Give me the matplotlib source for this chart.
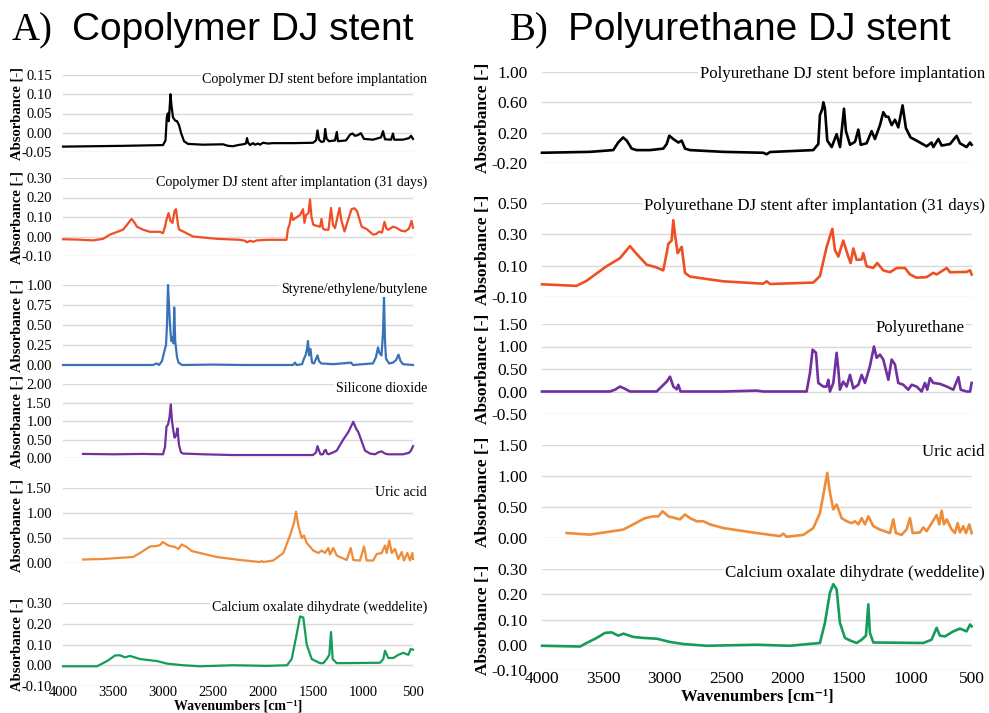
import matplotlib
matplotlib.use('Agg')
import matplotlib.pyplot as plt
import numpy as np

# spectra: (wavenumber, absorbance)
cop_before = [(4000, -0.036), (3700, -0.035), (3400, -0.034), (3000, -0.032), (2975, -0.020),
              (2962, 0.040), (2952, 0.050), (2942, 0.030), (2925, 0.100), (2915, 0.070),
              (2900, 0.040), (2880, 0.032), (2860, 0.030), (2840, 0.020), (2820, 0.000),
              (2790, -0.022), (2750, -0.029), (2600, -0.031), (2400, -0.030), (2350, -0.034),
              (2300, -0.035), (2250, -0.032), (2200, -0.030), (2170, -0.028), (2160, -0.014),
              (2150, -0.025), (2130, -0.032), (2100, -0.027), (2080, -0.031), (2050, -0.028),
              (2030, -0.031), (2000, -0.026), (1950, -0.028), (1900, -0.027), (1700, -0.027),
              (1500, -0.026), (1470, -0.020), (1455, 0.006), (1440, -0.018), (1415, -0.024),
              (1390, -0.022), (1378, 0.010), (1365, -0.015), (1340, -0.022), (1280, -0.020),
              (1262, 0.002), (1250, -0.022), (1170, -0.020), (1130, -0.005), (1105, -0.002),
              (1080, -0.008), (1050, -0.006), (1022, -0.001), (990, -0.016), (900, -0.018),
              (820, -0.012), (800, 0.004), (780, -0.017), (720, -0.018), (700, -0.002),
              (688, -0.018), (600, -0.018), (540, -0.014), (520, -0.008), (500, -0.016)]

cop_after = [(4000, -0.014), (3850, -0.016), (3700, -0.020), (3600, -0.012), (3530, 0.010),
             (3450, 0.025), (3400, 0.035), (3360, 0.060), (3315, 0.090), (3290, 0.075),
             (3260, 0.050), (3200, 0.035), (3130, 0.024), (3030, 0.024), (3000, 0.017),
             (2980, 0.050), (2963, 0.090), (2945, 0.120), (2925, 0.080), (2905, 0.070),
             (2885, 0.130), (2870, 0.140), (2850, 0.060), (2838, 0.035), (2800, 0.026),
             (2700, 0.000), (2460, -0.012), (2230, -0.017), (2180, -0.022), (2160, -0.030),
             (2130, -0.022), (2100, -0.027), (2060, -0.020), (1960, -0.017), (1765, -0.017),
             (1750, 0.040), (1735, 0.060), (1715, 0.120), (1700, 0.085), (1660, 0.100),
             (1630, 0.110), (1600, 0.140), (1585, 0.070), (1570, 0.110), (1545, 0.120),
             (1530, 0.190), (1515, 0.100), (1497, 0.060), (1430, 0.050), (1415, 0.090),
             (1400, 0.040), (1380, 0.035), (1345, 0.035), (1320, 0.146), (1300, 0.060),
             (1280, 0.043), (1235, 0.146), (1215, 0.080), (1185, 0.026), (1140, 0.100),
             (1115, 0.140), (1085, 0.145), (1060, 0.130), (1013, 0.050), (963, 0.038),
             (900, 0.010), (870, 0.012), (840, 0.025), (810, 0.020), (785, 0.075),
             (765, 0.040), (747, 0.035), (700, 0.050), (667, 0.045), (620, 0.030),
             (580, 0.026), (540, 0.040), (515, 0.080), (500, 0.045)]

styrene = [(4000, 0.0), (3500, 0.0), (3100, 0.0), (3065, 0.02), (3040, 0.0), (3010, 0.05),
           (2985, 0.18), (2970, 0.25), (2960, 0.5), (2950, 1.0), (2940, 0.75), (2930, 0.5),
           (2918, 0.3), (2905, 0.35), (2895, 0.27), (2888, 0.72), (2878, 0.3), (2860, 0.1),
           (2845, 0.03), (2810, 0.0), (2500, 0.005), (2200, 0.0), (1950, 0.0), (1700, 0.0),
           (1680, 0.03), (1665, 0.0), (1610, 0.01), (1590, 0.08), (1575, 0.12), (1560, 0.2),
           (1550, 0.3), (1540, 0.12), (1525, 0.2), (1510, 0.03), (1490, 0.02), (1455, 0.12),
           (1440, 0.05), (1420, 0.02), (1300, 0.01), (1120, 0.03), (1100, 0.0), (900, 0.02),
           (870, 0.1), (850, 0.22), (835, 0.15), (815, 0.12), (800, 0.4), (790, 0.85),
           (780, 0.3), (770, 0.08), (740, 0.02), (700, 0.03), (670, 0.06), (645, 0.13),
           (625, 0.05), (600, 0.01), (500, 0.0)]

silicone = [(3800, 0.11), (3500, 0.10), (3200, 0.11), (3000, 0.10), (2980, 0.30), (2965, 0.85),
            (2950, 0.90), (2935, 1.10), (2922, 1.45), (2910, 1.00), (2900, 0.80), (2885, 0.55),
            (2870, 0.60), (2855, 0.80), (2840, 0.35), (2820, 0.15), (2800, 0.12), (2600, 0.10),
            (2300, 0.08), (2000, 0.08), (1500, 0.08), (1470, 0.15), (1455, 0.32), (1440, 0.20),
            (1425, 0.10), (1400, 0.10), (1385, 0.20), (1372, 0.22), (1360, 0.12), (1345, 0.10),
            (1300, 0.15), (1263, 0.20), (1230, 0.35), (1197, 0.50), (1147, 0.70), (1120, 0.85),
            (1097, 0.98), (1070, 0.80), (1047, 0.70), (1013, 0.45), (980, 0.20), (930, 0.12),
            (880, 0.10), (850, 0.15), (815, 0.18), (780, 0.12), (750, 0.10), (700, 0.10),
            (600, 0.10), (540, 0.14), (520, 0.20), (500, 0.32)]

uric_a = [(3800, 0.07), (3600, 0.08), (3300, 0.12), (3230, 0.20), (3130, 0.33), (3063, 0.34),
          (3030, 0.36), (3003, 0.42), (2970, 0.38), (2947, 0.35), (2880, 0.32), (2847, 0.28),
          (2813, 0.37), (2763, 0.32), (2713, 0.24), (2630, 0.20), (2463, 0.12), (2230, 0.06),
          (2030, 0.02), (2013, 0.04), (1997, 0.02), (1897, 0.05), (1797, 0.20), (1730, 0.55),
          (1690, 0.80), (1670, 1.03), (1647, 0.75), (1613, 0.50), (1590, 0.55), (1563, 0.40),
          (1497, 0.25), (1447, 0.20), (1413, 0.25), (1380, 0.20), (1347, 0.30), (1330, 0.17),
          (1297, 0.30), (1263, 0.15), (1163, 0.06), (1123, 0.30), (1097, 0.06), (1030, 0.05),
          (990, 0.33), (963, 0.05), (897, 0.05), (863, 0.18), (813, 0.20), (780, 0.35),
          (763, 0.20), (737, 0.45), (713, 0.20), (680, 0.28), (647, 0.08), (613, 0.22),
          (590, 0.05), (557, 0.20), (530, 0.05), (507, 0.20), (500, 0.08)]

cao_a = [(4000, -0.005), (3660, -0.005), (3560, 0.020), (3480, 0.047), (3430, 0.048),
         (3380, 0.038), (3330, 0.045), (3230, 0.030), (3060, 0.020), (2960, 0.008),
         (2800, 0.000), (2630, -0.005), (2300, 0.000), (1960, -0.003), (1760, 0.000),
         (1713, 0.030), (1663, 0.150), (1630, 0.235), (1597, 0.230), (1563, 0.100),
         (1513, 0.030), (1430, 0.010), (1397, 0.010), (1363, 0.030), (1337, 0.050),
         (1320, 0.160), (1303, 0.030), (1263, 0.010), (830, 0.012), (797, 0.030),
         (780, 0.070), (747, 0.035), (697, 0.035), (647, 0.050), (597, 0.060),
         (547, 0.050), (523, 0.078), (500, 0.075)]

pu_before = [(4000, -0.065), (3610, -0.053), (3420, -0.030), (3380, 0.070), (3340, 0.137),
             (3310, 0.095), (3270, -0.010), (3230, -0.030), (3120, -0.030), (3013, -0.010),
             (2985, 0.050), (2964, 0.160), (2931, 0.116), (2890, 0.070), (2863, 0.095),
             (2836, -0.010), (2795, -0.030), (2524, -0.053), (2200, -0.065), (2171, -0.085),
             (2144, -0.055), (1792, -0.030), (1751, 0.050), (1738, 0.430), (1718, 0.516),
             (1710, 0.600), (1697, 0.516), (1678, 0.095), (1642, 0.010), (1602, 0.180),
             (1574, 0.010), (1542, 0.516), (1526, 0.220), (1493, 0.040), (1452, 0.080),
             (1425, 0.240), (1406, 0.040), (1358, 0.060), (1317, 0.220), (1290, 0.116),
             (1249, 0.300), (1222, 0.470), (1200, 0.410), (1181, 0.410), (1154, 0.300),
             (1127, 0.370), (1100, 0.270), (1065, 0.560), (1038, 0.260), (1000, 0.137),
             (951, 0.095), (869, 0.020), (829, 0.070), (815, 0.010), (774, 0.116),
             (747, 0.030), (679, 0.050), (625, 0.158), (598, 0.060), (544, 0.010),
             (516, 0.070), (503, 0.040)]

pu_after = [(4000, -0.019), (3720, -0.029), (3640, 0.002), (3475, 0.096), (3365, 0.148),
            (3284, 0.225), (3230, 0.175), (3148, 0.106), (3080, 0.092), (3013, 0.070),
            (2985, 0.180), (2972, 0.240), (2945, 0.260), (2931, 0.390), (2918, 0.300),
            (2896, 0.180), (2863, 0.220), (2836, 0.054), (2795, 0.030), (2524, 0.000),
            (2200, -0.015), (2171, 0.000), (2144, -0.017), (1792, -0.008), (1738, 0.033),
            (1683, 0.220), (1637, 0.335), (1616, 0.200), (1588, 0.158), (1548, 0.260),
            (1507, 0.158), (1488, 0.117), (1466, 0.210), (1439, 0.137), (1398, 0.140),
            (1385, 0.180), (1358, 0.096), (1304, 0.086), (1271, 0.117), (1222, 0.070),
            (1168, 0.058), (1113, 0.085), (1046, 0.085), (1005, 0.044), (951, 0.023),
            (869, 0.027), (815, 0.054), (788, 0.044), (706, 0.085), (679, 0.058),
            (544, 0.060), (516, 0.070), (503, 0.044)]

pu_ref = [(4000, 0.0), (3447, 0.0), (3406, 0.04), (3365, 0.11), (3325, 0.06), (3284, 0.0),
          (3067, 0.0), (3026, 0.11), (2985, 0.22), (2958, 0.33), (2931, 0.11), (2904, 0.05),
          (2891, 0.15), (2872, 0.0), (2524, 0.0), (2253, 0.02), (2199, 0.0), (1846, 0.0),
          (1819, 0.41), (1797, 0.93), (1770, 0.86), (1751, 0.19), (1710, 0.11), (1683, 0.11),
          (1670, 0.26), (1656, 0.0), (1629, 0.19), (1602, 0.86), (1588, 0.49), (1575, 0.04),
          (1548, 0.22), (1520, 0.11), (1493, 0.37), (1466, 0.07), (1425, 0.15), (1398, 0.37),
          (1371, 0.19), (1331, 0.56), (1298, 1.0), (1276, 0.75), (1249, 0.82), (1222, 0.71),
          (1181, 0.26), (1154, 0.71), (1127, 0.60), (1100, 0.19), (1059, 0.15), (1019, 0.04),
          (991, 0.15), (951, 0.11), (910, 0.0), (883, 0.19), (864, 0.04), (842, 0.30),
          (815, 0.19), (761, 0.17), (706, 0.11), (652, 0.04), (611, 0.32), (592, 0.04),
          (544, 0.0), (516, 0.0), (503, 0.19)]

uric_b = [(3800, 0.08), (3610, 0.055), (3340, 0.135), (3257, 0.22), (3162, 0.32), (3094, 0.35),
          (3053, 0.35), (3018, 0.43), (2972, 0.35), (2877, 0.30), (2836, 0.38), (2795, 0.32),
          (2741, 0.27), (2687, 0.27), (2633, 0.22), (2524, 0.16), (2253, 0.08), (2063, 0.03),
          (2036, 0.07), (2009, 0.02), (1873, 0.05), (1792, 0.16), (1738, 0.40), (1697, 0.84),
          (1678, 1.05), (1656, 0.73), (1629, 0.46), (1602, 0.54), (1561, 0.32), (1520, 0.27),
          (1480, 0.24), (1452, 0.27), (1425, 0.22), (1398, 0.32), (1371, 0.22), (1344, 0.35),
          (1303, 0.19), (1249, 0.135), (1168, 0.08), (1141, 0.30), (1119, 0.08), (1073, 0.05),
          (1032, 0.14), (1005, 0.32), (983, 0.08), (924, 0.09), (896, 0.17), (869, 0.11),
          (788, 0.37), (766, 0.22), (747, 0.44), (728, 0.22), (706, 0.30), (666, 0.14),
          (639, 0.08), (617, 0.24), (598, 0.09), (571, 0.19), (549, 0.08), (522, 0.22),
          (503, 0.08)]

cao_b = [(4000, -0.004), (3690, -0.007), (3637, 0.007), (3555, 0.027), (3487, 0.047),
         (3433, 0.049), (3379, 0.036), (3338, 0.044), (3257, 0.031), (3175, 0.027),
         (3067, 0.024), (2958, 0.011), (2850, 0.003), (2660, -0.004), (2253, 0.000),
         (1982, -0.004), (1738, 0.007), (1697, 0.087), (1656, 0.207), (1629, 0.240),
         (1602, 0.220), (1575, 0.087), (1534, 0.027), (1493, 0.017), (1439, 0.007),
         (1398, 0.020), (1363, 0.036), (1344, 0.160), (1331, 0.047), (1303, 0.009),
         (896, 0.007), (829, 0.020), (788, 0.067), (761, 0.036), (720, 0.033),
         (652, 0.053), (598, 0.064), (544, 0.053), (516, 0.080), (503, 0.073)]

titles_a = ['Copolymer DJ stent before implantation', 'Copolymer DJ stent after implantation (31 days)',
            'Styrene/ethylene/butylene', 'Silicone dioxide', 'Uric acid',
            'Calcium oxalate dihydrate (weddelite)']
titles_b = ['Polyurethane DJ stent before implantation', 'Polyurethane DJ stent after implantation (31 days)',
            'Polyurethane', 'Uric acid', 'Calcium oxalate dihydrate (weddelite)']
x_ticks = [4000, 3500, 3000, 2500, 2000, 1500, 1000, 500]
x_label = 'Wavenumbers [cm\u207b\u00b9]'

plt.rcParams['font.family'] = ['Liberation Serif', 'DejaVu Serif']

W, H = 989, 713
fig = plt.figure(figsize=(W / 100, H / 100), dpi=100)

black = '#000000'
red = '#F04E23'
blue = '#3A72B8'
purple = '#7030A0'
orange = '#EE8C3A'
green = '#169C5A'

# left column: (data, colour, top px, bottom px, ylim, yticks, title y px)
left = [
    (cop_before, black, 75, 152, (-0.05, 0.15), np.arange(-0.05, 0.151, 0.05), 79),
    (cop_after, red, 178, 256, (-0.1, 0.3), np.arange(-0.1, 0.31, 0.1), 182),
    (styrene, blue, 285, 365, (0, 1.0), np.arange(0, 1.01, 0.25), 289),
    (silicone, purple, 384, 458, (0, 2.0), np.arange(0, 2.01, 0.5), 388),
    (uric_a, orange, 488, 563, (0, 1.5), np.arange(0, 1.51, 0.5), 493),
    (cao_a, green, 603, 686, (-0.1, 0.3), np.arange(-0.1, 0.31, 0.1), 607),
]
right = [
    (pu_before, black, 72, 163, (-0.2, 1.0), [-0.2, 0.2, 0.6, 1.0], 74),
    (pu_after, red, 203, 297, (-0.1, 0.5), [-0.1, 0.1, 0.3, 0.5], 206),
    (pu_ref, purple, 324, 414, (-0.5, 1.5), np.arange(-0.5, 1.51, 0.5), 328),
    (uric_b, orange, 445, 538, (0, 1.5), np.arange(0, 1.51, 0.5), 452),
    (cao_b, green, 569, 670, (-0.1, 0.3), np.arange(-0.1, 0.31, 0.1), 573),
]


def draw_column(panels, titles, x0, x1, tick_fs, title_fs, lab_fs, lw, pad, title_right, ylab_x, xpad):
    n = len(panels)
    for i, (data, col, top, bot, ylim, yt, ty) in enumerate(panels):
        ax = fig.add_axes([x0 / W, 1 - bot / H, (x1 - x0) / W, (bot - top) / H])
        d = np.array(data)
        ax.plot(d[:, 0], d[:, 1], color=col, lw=lw, solid_joinstyle='round', clip_on=False)
        ax.set_xlim(4000, 500)
        ax.set_ylim(*ylim)
        ax.set_yticks(yt)
        ax.set_yticklabels(['%.2f' % v for v in yt], fontsize=tick_fs)
        ax.grid(axis='y', color='#D9D9D9', lw=1)
        ax.set_axisbelow(True)
        for s in ax.spines.values():
            s.set_visible(False)
        ax.tick_params(length=0, pad=pad)
        ax.set_xticks(x_ticks)
        if i == n - 1:
            ax.set_xticklabels([str(v) for v in x_ticks], fontsize=tick_fs)
            ax.tick_params(axis='x', pad=xpad)
        else:
            ax.set_xticklabels([])
        fig.text(title_right[i] / W, 1 - ty / H, titles[i], fontsize=title_fs, ha='right', va='center',
                 bbox=dict(facecolor='white', edgecolor='none', pad=1))
        fig.text(ylab_x / W, 1 - (top + bot) / 2 / H, 'Absorbance [-]', rotation=90, fontsize=lab_fs,
                 fontweight='bold', ha='center', va='center')


draw_column(left, titles_a, 63, 413, 10.5, 10.1, 10.5, 1.6, 8, [427] * 6, 17, 0)
draw_column(right, titles_b, 542, 972, 12.5, 12.2, 12.5, 1.9, 10.5, [985, 985, 965, 985, 985], 483, 1)

fig.text(238 / W, 1 - 709.5 / H, x_label, fontsize=10, fontweight='bold', ha='center', va='baseline')
fig.text(757 / W, 1 - 701 / H, x_label, fontsize=12, fontweight='bold', ha='center', va='baseline')

fig.text(12 / W, 1 - 40 / H, 'A)', fontsize=28, ha='left', va='baseline')
fig.text(72 / W, 1 - 40 / H, 'Copolymer DJ stent', fontsize=28, family='Liberation Sans',
         ha='left', va='baseline')
fig.text(510 / W, 1 - 40 / H, 'B)', fontsize=28, ha='left', va='baseline')
fig.text(568 / W, 1 - 40 / H, 'Polyurethane DJ stent', fontsize=28, family='Liberation Sans',
         ha='left', va='baseline')

fig.savefig('out.png', dpi=100)
